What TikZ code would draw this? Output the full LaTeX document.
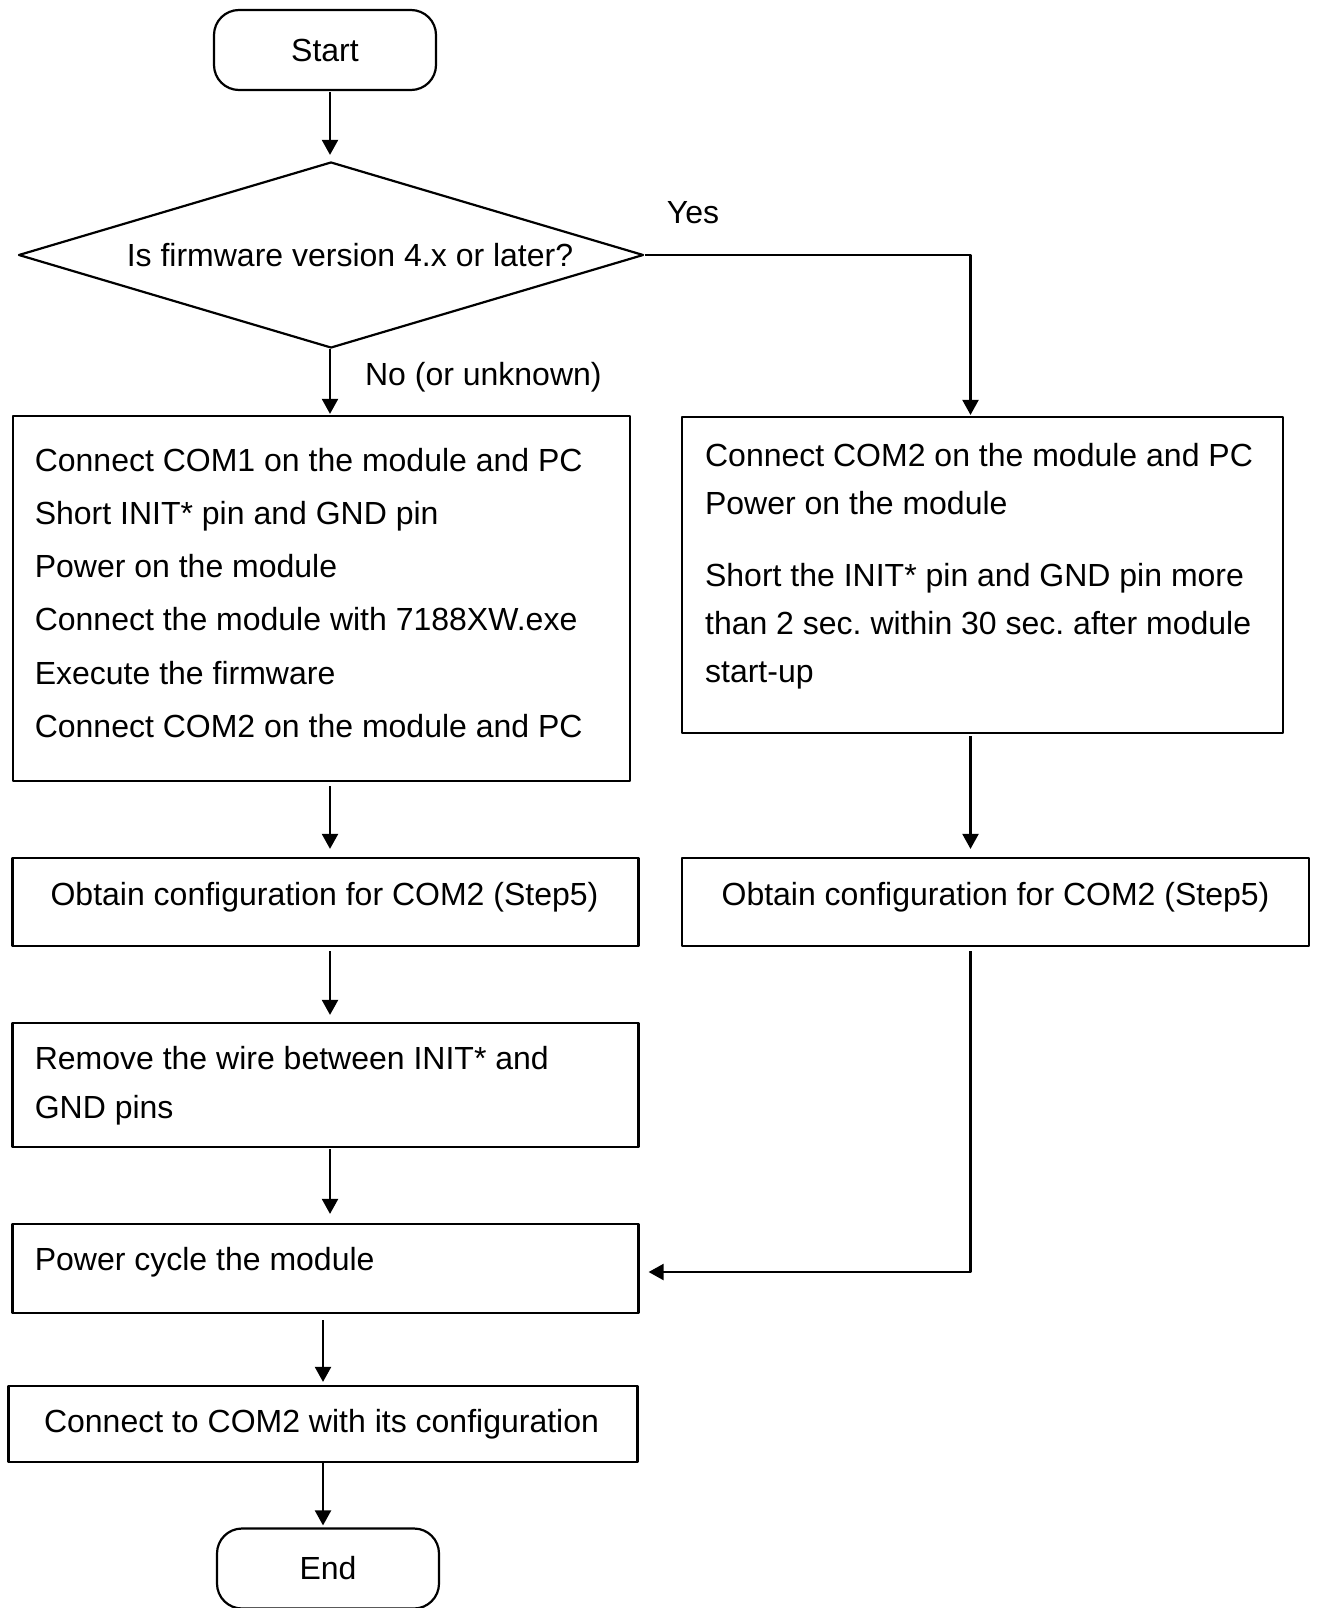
\documentclass[tikz,border=0pt]{standalone}
\usepackage{fontspec}
\setmainfont{Liberation Sans}
\usetikzlibrary{arrows.meta,shapes.geometric}
\frenchspacing

\begin{document}
\begin{tikzpicture}[x=1pt,y=-1pt,line join=round,line width=2.2pt,
		>={Triangle[length=15pt,width=16pt]},font=\fontsize{32pt}{48pt}\selectfont,
		term/.style={draw,rectangle,rounded corners=25pt,minimum width=222pt,minimum height=80pt,inner sep=0pt},
		stepbox/.style={draw,rectangle,inner sep=0pt},
		txt/.style={inner sep=0pt,align=left},
		flow/.style={->,shorten <=2pt,shorten >=6pt}]
	\useasboundingbox (0,0) rectangle (1317,1608);
	% columns of the arrows
	\coordinate (lc) at (330,0);
	\coordinate (rc) at (970.5,0);
	% shapes
	\node[term] (start) at (325,50) {Start};
	\node[draw,diamond,minimum width=625pt,minimum height=186pt,inner sep=0pt] (ask) at (331,255) {};
	\node[txt,anchor=base] (asktext) at (350,266.5) {Is firmware version 4.x or later?};
	\node[stepbox,minimum width=617pt,minimum height=365pt] (setupA) at (321.3,598.5) {};
	\node[stepbox,minimum width=601pt,minimum height=316pt] (setupB) at (982.5,575) {};
	\node[stepbox,minimum width=626pt,minimum height=88pt] (getcfgA) at (325.5,902) {};
	\node[stepbox,minimum width=627pt,minimum height=88pt] (getcfgB) at (995.5,902) {};
	\node[stepbox,minimum width=626pt,minimum height=124pt] (unwire) at (325.5,1085) {};
	\node[stepbox,minimum width=626pt,minimum height=89pt] (cycle) at (325.5,1268.5) {};
	\node[stepbox,minimum width=629pt,minimum height=76pt] (connect) at (323,1424) {};
	\node[term] (finish) at (328,1568.5) {End};
	% texts in the boxes
	\node[txt,anchor=north west,font=\fontsize{32pt}{53.2pt}\selectfont] (setupAtext) at (33.7,447) {Connect COM1 on the module and PC\\Short INIT* pin and GND pin\\Power on the module\\Connect the module with 7188XW.exe\\Execute the firmware\\Connect COM2 on the module and PC};
	\node[txt,anchor=north west] (setupBtext) at (704,442) {Connect COM2 on the module and PC\\Power on the module\\[24pt]Short the INIT* pin and GND pin more\\than 2 sec. within 30 sec. after module\\start-up};
	\node[txt,anchor=base] (getcfgAtext) at (324.5,905) {Obtain configuration for COM2 (Step5)};
	\node[txt,anchor=base] (getcfgBtext) at (995.5,905) {Obtain configuration for COM2 (Step5)};
	\node[txt,anchor=north west,font=\fontsize{32pt}{49pt}\selectfont] (unwiretext) at (33.7,1045) {Remove the wire between INIT* and\\GND pins};
	\node[txt,anchor=base west] (cycletext) at (33.7,1270) {Power cycle the module};
	\node[txt,anchor=base] (connecttext) at (321.5,1432) {Connect to COM2 with its configuration};
	% branch labels
	\node[txt,anchor=base] (yes) at (693,223) {Yes};
	\node[txt,anchor=base west] (no) at (364,385) {No (or unknown)};
	% arrows
	\draw[flow,shorten <=1pt] (start.south -| lc) -- (ask.north -| lc);
	\draw[flow,shorten <=0pt,shorten >=1pt] (ask.south -| lc) -- (setupA.north -| lc);
	\draw[flow,shorten <=0pt,shorten >=1pt] (ask.east) -| (setupB.north -| rc);
	\draw[flow,shorten <=4pt,shorten >=8pt] (setupA.south -| lc) -- (getcfgA.north -| lc);
	\draw[flow,shorten >=8pt] (setupB.south -| rc) -- (getcfgB.north -| rc);
	\draw[flow,shorten <=4pt,shorten >=7pt] (getcfgA.south -| lc) -- (unwire.north -| lc);
	\draw[flow,shorten <=1pt,shorten >=9pt] (unwire.south -| lc) -- (cycle.north -| lc);
	\draw[flow,shorten <=4pt,shorten >=9pt] (getcfgB.south -| rc) |- ([yshift=-3.5pt]cycle.east);
	\draw[flow,shorten <=6pt,shorten >=3pt] (cycle.south -| connect.north) -- (connect.north);
	\draw[flow,shorten <=0pt,shorten >=2pt] (connect.south) -- (finish.north -| connect.south);
\end{tikzpicture}
\end{document}
